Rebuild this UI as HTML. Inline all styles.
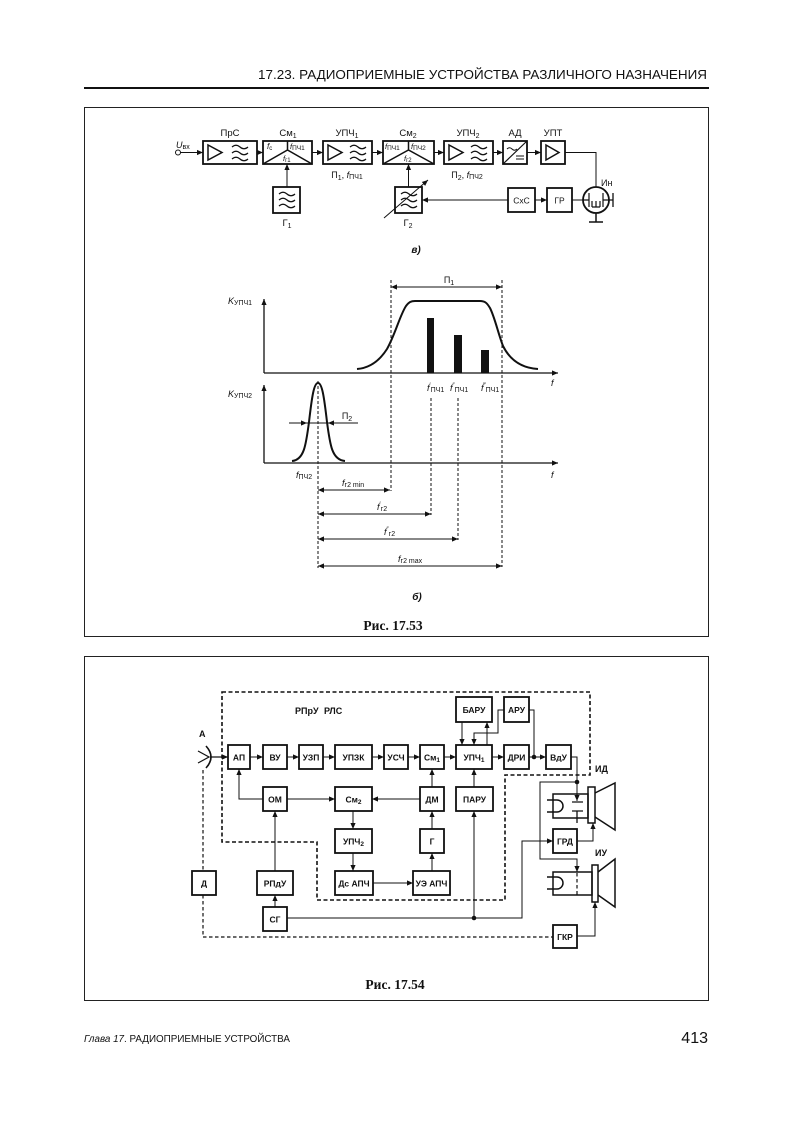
<!DOCTYPE html>
<html><head><meta charset="utf-8"><style>
html,body{margin:0;padding:0;background:#fff;}
svg{display:block;}
text{font-family:"Liberation Sans","DejaVu Sans",sans-serif;fill:#111;}
.s{font-family:"Liberation Serif","DejaVu Serif",serif;font-weight:bold;}
</style></head><body>
<svg width="794" height="1131" viewBox="0 0 794 1131" xmlns="http://www.w3.org/2000/svg">
<defs>
<marker id="a" markerWidth="6" markerHeight="6" refX="6" refY="3" orient="auto-start-reverse" markerUnits="userSpaceOnUse"><path d="M0,0.4 L6,3 L0,5.6z" fill="#111"/></marker>
</defs>

<!-- header -->
<text x="258" y="79" font-size="13" textLength="449" lengthAdjust="spacingAndGlyphs">17.23. РАДИОПРИЕМНЫЕ УСТРОЙСТВА РАЗЛИЧНОГО НАЗНАЧЕНИЯ</text>
<line x1="84" y1="88" x2="709" y2="88" stroke="#111" stroke-width="2"/>

<rect x="84.5" y="107.5" width="624" height="529" fill="none" stroke="#222" stroke-width="1"/>
<rect x="84.5" y="656.5" width="624" height="344" fill="none" stroke="#222" stroke-width="1"/>

<!-- ============ TOP DIAGRAM (a) ============ -->
<g stroke="#111" fill="none" stroke-width="1">
  <circle cx="178" cy="152.5" r="2.5"/>
  <line x1="180.5" y1="152.5" x2="203" y2="152.5" marker-end="url(#a)"/>
  <rect x="203" y="141" width="54" height="23" stroke-width="1.8"/>
  <rect x="263" y="141" width="49" height="23" stroke-width="1.8"/>
  <rect x="323" y="141" width="49" height="23" stroke-width="1.8"/>
  <rect x="383" y="141" width="51" height="23" stroke-width="1.8"/>
  <rect x="444" y="141" width="49" height="23" stroke-width="1.8"/>
  <rect x="503" y="141" width="24" height="23" stroke-width="1.8"/>
  <rect x="541" y="141" width="24" height="23" stroke-width="1.8"/>
  <path d="M208,145 L208,160 L222,152.5z" stroke-width="1.5"/>
  <path d="M328,145 L328,160 L342,152.5z" stroke-width="1.5"/>
  <path d="M449,145 L449,160 L463,152.5z" stroke-width="1.5"/>
  <path d="M546,145 L546,160 L559,152.5z" stroke-width="1.5"/>
  <g stroke-width="1.2">
    <path d="M232,147 q4,-3.5 8,0 t8,0"/><path d="M232,153 q4,-3.5 8,0 t8,0"/><path d="M232,159 q4,-3.5 8,0 t8,0"/>
    <path d="M350,147 q4,-3.5 8,0 t8,0"/><path d="M350,153 q4,-3.5 8,0 t8,0"/><path d="M350,159 q4,-3.5 8,0 t8,0"/>
    <path d="M471,147 q4,-3.5 8,0 t8,0"/><path d="M471,153 q4,-3.5 8,0 t8,0"/><path d="M471,159 q4,-3.5 8,0 t8,0"/>
    <path d="M279,194 q4,-3.5 8,0 t8,0"/><path d="M279,200 q4,-3.5 8,0 t8,0"/><path d="M279,206 q4,-3.5 8,0 t8,0"/>
    <path d="M401,194 q4,-3.5 8,0 t8,0"/><path d="M401,200 q4,-3.5 8,0 t8,0"/><path d="M401,206 q4,-3.5 8,0 t8,0"/>
  </g>
  <path d="M263,164 L287.5,150 L312,164 M287.5,150 L287.5,141" stroke-width="1.5"/>
  <path d="M383,164 L408.5,150 L434,164 M408.5,150 L408.5,141" stroke-width="1.5"/>
  <line x1="503" y1="164" x2="527" y2="141" stroke-width="1.2"/>
  <path d="M507,149 q2.5,-2.5 5,0 t5,0" stroke-width="1"/>
  <path d="M516,156 h8 M516,159 h8" stroke-width="1"/>
  <line x1="257" y1="152.5" x2="263" y2="152.5" marker-end="url(#a)"/>
  <line x1="312" y1="152.5" x2="323" y2="152.5" marker-end="url(#a)"/>
  <line x1="372" y1="152.5" x2="383" y2="152.5" marker-end="url(#a)"/>
  <line x1="434" y1="152.5" x2="444" y2="152.5" marker-end="url(#a)"/>
  <line x1="493" y1="152.5" x2="503" y2="152.5" marker-end="url(#a)"/>
  <line x1="527" y1="152.5" x2="541" y2="152.5" marker-end="url(#a)"/>
  <rect x="273" y="187" width="27" height="26" stroke-width="1.8"/>
  <line x1="287" y1="187" x2="287" y2="164" marker-end="url(#a)"/>
  <rect x="395" y="187" width="27" height="26" stroke-width="1.8"/>
  <line x1="384" y1="218" x2="428" y2="180" marker-end="url(#a)"/>
  <line x1="408.5" y1="187" x2="408.5" y2="164" marker-end="url(#a)"/>
  <rect x="508" y="188" width="27" height="24" stroke-width="1.8"/>
  <rect x="547" y="188" width="25" height="24" stroke-width="1.8"/>
  <line x1="535" y1="200" x2="547" y2="200" marker-end="url(#a)"/>
  <line x1="508" y1="200" x2="422" y2="200" marker-end="url(#a)"/>
  <line x1="572" y1="200" x2="583" y2="200"/>
  <circle cx="596" cy="200" r="13" stroke-width="1.8"/>
  <path d="M565,152.5 H596 V187"/>
  <path d="M589,193 V207 M603,193 V207 M592,207 H600 M592,201 V207 M596,201 V207 M600,201 V207" stroke-width="1.2"/>
  <path d="M583,200 H589 M603,200 H613 M613,193 V207" stroke-width="1.3"/>
  <path d="M596,213 V222 M589,222 H603" stroke-width="1.5"/>
</g>
<g font-size="9.5">
  <text x="176" y="148" font-size="9"><tspan font-style="italic">U</tspan><tspan font-size="7" dy="1">вх</tspan></text>
  <text x="230" y="136" text-anchor="middle">ПрС</text>
  <text x="288" y="136" text-anchor="middle">См<tspan font-size="7" dy="2">1</tspan></text>
  <text x="347" y="136" text-anchor="middle">УПЧ<tspan font-size="7" dy="2">1</tspan></text>
  <text x="408" y="136" text-anchor="middle">См<tspan font-size="7" dy="2">2</tspan></text>
  <text x="468" y="136" text-anchor="middle">УПЧ<tspan font-size="7" dy="2">2</tspan></text>
  <text x="515" y="136" text-anchor="middle">АД</text>
  <text x="553" y="136" text-anchor="middle">УПТ</text>
  <text x="347" y="178" text-anchor="middle" font-size="9">П<tspan font-size="7" dy="2">1</tspan><tspan dy="-2">, </tspan><tspan font-style="italic">f</tspan><tspan font-size="7" dy="1">ПЧ1</tspan></text>
  <text x="467" y="178" text-anchor="middle" font-size="9">П<tspan font-size="7" dy="2">2</tspan><tspan dy="-2">, </tspan><tspan font-style="italic">f</tspan><tspan font-size="7" dy="1">ПЧ2</tspan></text>
  <text x="287" y="226" text-anchor="middle">Г<tspan font-size="7" dy="2">1</tspan></text>
  <text x="408" y="226" text-anchor="middle">Г<tspan font-size="7" dy="2">2</tspan></text>
  <text x="521.5" y="203.5" text-anchor="middle" font-size="8.5">СхС</text>
  <text x="559.5" y="203.5" text-anchor="middle" font-size="8.5">ГР</text>
  <text x="601" y="186" font-size="9">Ин</text>
  <text x="267" y="149" font-size="8" font-style="italic">f<tspan font-size="6" font-style="normal" dy="1">c</tspan></text>
  <text x="290" y="149" font-size="7.5"><tspan font-style="italic">f</tspan><tspan font-size="6.5" dy="1">ПЧ1</tspan></text>
  <text x="283" y="161" font-size="7.5"><tspan font-style="italic">f</tspan><tspan font-size="6" dy="1">г1</tspan></text>
  <text x="385" y="149" font-size="7.5"><tspan font-style="italic">f</tspan><tspan font-size="6.5" dy="1">ПЧ1</tspan></text>
  <text x="411" y="149" font-size="7.5"><tspan font-style="italic">f</tspan><tspan font-size="6.5" dy="1">ПЧ2</tspan></text>
  <text x="404" y="161" font-size="7.5"><tspan font-style="italic">f</tspan><tspan font-size="6" dy="1">г2</tspan></text>
  <text x="416" y="253" text-anchor="middle" font-size="10" font-weight="bold" font-style="italic">в)</text>
</g>

<!-- ============ GRAPH (б) ============ -->
<g stroke="#111" fill="none" stroke-width="1.3">
  <line x1="264" y1="373" x2="264" y2="299" marker-end="url(#a)"/>
  <line x1="264" y1="373" x2="558" y2="373" marker-end="url(#a)"/>
  <line x1="264" y1="463" x2="264" y2="385" marker-end="url(#a)"/>
  <line x1="264" y1="463" x2="558" y2="463" marker-end="url(#a)"/>
  <path d="M357,369 C370,368 380,360 387,349 C395,335 400,315 406,306 C409,302 411,301 415,301 L480,301 C485,301 487,303 490,308 C495,318 498,333 503,346 C510,360 522,368 538,369" stroke-width="2"/>
  <path d="M292,461 C304,460 306,445 309,422 C312,396 314,383 318,383 C322,383 324,396 327,422 C330,445 332,460 345,461" stroke-width="2"/>
</g>
<g fill="#111">
  <rect x="427" y="318" width="7" height="55"/>
  <rect x="454" y="335" width="8" height="38"/>
  <rect x="481" y="350" width="8" height="23"/>
</g>
<g stroke="#111" fill="none" stroke-width="1" stroke-dasharray="3,2">
  <line x1="391" y1="280" x2="391" y2="491"/>
  <line x1="502" y1="280" x2="502" y2="567"/>
  <line x1="431" y1="398" x2="431" y2="515"/>
  <line x1="458" y1="398" x2="458" y2="540"/>
  <line x1="318" y1="381" x2="318" y2="568"/>
</g>
<g stroke="#111" fill="none" stroke-width="1">
  <line x1="391" y1="287" x2="502" y2="287" marker-start="url(#a)" marker-end="url(#a)"/>
  <line x1="289" y1="423" x2="307" y2="423" marker-end="url(#a)"/>
  <line x1="358" y1="423" x2="328" y2="423" marker-end="url(#a)"/>
  <line x1="307" y1="423" x2="328" y2="423"/>
  <line x1="318" y1="490" x2="390" y2="490" marker-start="url(#a)" marker-end="url(#a)"/>
  <line x1="318" y1="514" x2="431" y2="514" marker-start="url(#a)" marker-end="url(#a)"/>
  <line x1="318" y1="539" x2="458" y2="539" marker-start="url(#a)" marker-end="url(#a)"/>
  <line x1="318" y1="566" x2="502" y2="566" marker-start="url(#a)" marker-end="url(#a)"/>
</g>
<g font-size="9">
  <text x="228" y="304"><tspan font-style="italic">K</tspan><tspan font-size="7" dy="1">УПЧ1</tspan></text>
  <text x="228" y="397"><tspan font-style="italic">K</tspan><tspan font-size="7" dy="1">УПЧ2</tspan></text>
  <text x="449" y="283" text-anchor="middle">П<tspan font-size="7" dy="2">1</tspan></text>
  <text x="347" y="419" text-anchor="middle">П<tspan font-size="7" dy="2">2</tspan></text>
  <text x="551" y="386" font-style="italic">f</text>
  <text x="551" y="478" font-style="italic">f</text>
  <text x="427" y="391"><tspan font-style="italic">f</tspan><tspan font-size="6" dy="-4">′</tspan><tspan font-size="7" dy="5">ПЧ1</tspan></text>
  <text x="450" y="391"><tspan font-style="italic">f</tspan><tspan font-size="6" dy="-4">″</tspan><tspan font-size="7" dy="5">ПЧ1</tspan></text>
  <text x="481" y="391"><tspan font-style="italic">f</tspan><tspan font-size="6" dy="-4">‴</tspan><tspan font-size="7" dy="5">ПЧ1</tspan></text>
  <text x="296" y="478"><tspan font-style="italic">f</tspan><tspan font-size="7" dy="1">ПЧ2</tspan></text>
  <text x="342" y="486"><tspan font-style="italic">f</tspan><tspan font-size="7" dy="1">г2 min</tspan></text>
  <text x="377" y="510"><tspan font-style="italic">f</tspan><tspan font-size="6" dy="-4">′</tspan><tspan font-size="7" dy="5">г2</tspan></text>
  <text x="384" y="535"><tspan font-style="italic">f</tspan><tspan font-size="6" dy="-4">″</tspan><tspan font-size="7" dy="5">г2</tspan></text>
  <text x="398" y="562"><tspan font-style="italic">f</tspan><tspan font-size="7" dy="1">г2 max</tspan></text>
  <text x="417" y="600" text-anchor="middle" font-size="10" font-weight="bold" font-style="italic">б)</text>
</g>
<text x="393" y="630" text-anchor="middle" class="s" font-size="13.5">Рис. 17.53</text>

<!-- ============ FIG 17.54 ============ -->
<g stroke="#111" fill="none" stroke-width="1.6" stroke-dasharray="4,2.5">
  <path d="M222,692 H590 V775 H505 V900 H317 V842 H222 Z"/>
</g>
<g stroke="#111" fill="none" stroke-width="1.2" stroke-dasharray="3.5,2.5">
  <path d="M203,770 V871"/>
  <path d="M203,895 V937 H553"/>
  <line x1="577" y1="873" x2="577" y2="895"/>
</g>
<g stroke="#111" fill="none" stroke-width="1.8">
  <rect x="228" y="745" width="22" height="24"/>
  <rect x="263" y="745" width="24" height="24"/>
  <rect x="299" y="745" width="24" height="24"/>
  <rect x="335" y="745" width="37" height="24"/>
  <rect x="384" y="745" width="24" height="24"/>
  <rect x="420" y="745" width="24" height="24"/>
  <rect x="456" y="745" width="36" height="24"/>
  <rect x="504" y="745" width="25" height="24"/>
  <rect x="546" y="745" width="25" height="24"/>
  <rect x="456" y="697" width="36" height="25"/>
  <rect x="504" y="697" width="25" height="25"/>
  <rect x="263" y="787" width="24" height="24"/>
  <rect x="335" y="787" width="37" height="24"/>
  <rect x="420" y="787" width="24" height="24"/>
  <rect x="456" y="787" width="37" height="24"/>
  <rect x="335" y="829" width="37" height="24"/>
  <rect x="420" y="829" width="24" height="24"/>
  <rect x="335" y="871" width="38" height="24"/>
  <rect x="413" y="871" width="37" height="24"/>
  <rect x="257" y="871" width="36" height="24"/>
  <rect x="263" y="907" width="24" height="24"/>
  <rect x="192" y="871" width="24" height="24"/>
  <rect x="553" y="829" width="24" height="24"/>
  <rect x="553" y="925" width="24" height="23"/>
  <rect x="553" y="794" width="35" height="24" stroke-width="1.5"/>
  <rect x="588" y="787" width="7" height="36" stroke-width="1.5"/>
  <path d="M595,793 L615,783 L615,830 L595,817" stroke-width="1.5"/>
  <rect x="553" y="872" width="39" height="23" stroke-width="1.5"/>
  <rect x="592" y="865" width="6" height="37" stroke-width="1.5"/>
  <path d="M598,872 L615,859 L615,907 L598,895" stroke-width="1.5"/>
</g>
<g stroke="#111" fill="none" stroke-width="1.2">
  <path d="M198,751 L209,757 L198,763"/>
  <path d="M206,746 Q216,757 206,768" stroke-width="1.6"/>
  <line x1="210" y1="757" x2="228" y2="757" marker-end="url(#a)"/>
  <path d="M547,800 H557 A6,6 0 0 1 557,812 H547" stroke-width="1.5"/>
  <path d="M547,877 H557 A6,6 0 0 1 557,889 H547" stroke-width="1.5"/>
  <path d="M572,802 H583 M572,811 H583 M577,811 V823" stroke-width="1.3"/>
</g>
<g stroke="#111" fill="none" stroke-width="1">
  <line x1="250" y1="757" x2="263" y2="757" marker-end="url(#a)"/>
  <line x1="287" y1="757" x2="299" y2="757" marker-end="url(#a)"/>
  <line x1="323" y1="757" x2="335" y2="757" marker-end="url(#a)"/>
  <line x1="372" y1="757" x2="384" y2="757" marker-end="url(#a)"/>
  <line x1="408" y1="757" x2="420" y2="757" marker-end="url(#a)"/>
  <line x1="444" y1="757" x2="456" y2="757" marker-end="url(#a)"/>
  <line x1="492" y1="757" x2="504" y2="757" marker-end="url(#a)"/>
  <line x1="529" y1="757" x2="546" y2="757" marker-end="url(#a)"/>
  <path d="M529,710 H534 V757"/>
  <path d="M504,710 H498 V733 H474 V745" marker-end="url(#a)"/>
  <line x1="462" y1="722" x2="462" y2="745" marker-end="url(#a)"/>
  <line x1="487" y1="745" x2="487" y2="722" marker-end="url(#a)"/>
  <path d="M571,757 H577 V801" marker-end="url(#a)"/>
  <path d="M577,782 H540 V859 H577 V872" marker-end="url(#a)"/>
  <path d="M263,799 H239 V769" marker-end="url(#a)"/>
  <line x1="287" y1="799" x2="335" y2="799" marker-end="url(#a)"/>
  <line x1="420" y1="799" x2="372" y2="799" marker-end="url(#a)"/>
  <line x1="432" y1="787" x2="432" y2="769" marker-end="url(#a)"/>
  <line x1="474" y1="787" x2="474" y2="769" marker-end="url(#a)"/>
  <line x1="474" y1="918" x2="474" y2="811" marker-end="url(#a)"/>
  <line x1="353" y1="811" x2="353" y2="829" marker-end="url(#a)"/>
  <line x1="353" y1="853" x2="353" y2="871" marker-end="url(#a)"/>
  <line x1="373" y1="883" x2="413" y2="883" marker-end="url(#a)"/>
  <line x1="432" y1="871" x2="432" y2="853" marker-end="url(#a)"/>
  <line x1="432" y1="829" x2="432" y2="811" marker-end="url(#a)"/>
  <line x1="275" y1="907" x2="275" y2="895" marker-end="url(#a)"/>
  <line x1="275" y1="871" x2="275" y2="811" marker-end="url(#a)"/>
  <path d="M287,918 H522 V841 H553" marker-end="url(#a)"/>
  <path d="M577,841 H593 V823" marker-end="url(#a)"/>
  <path d="M577,936 H595 V902" marker-end="url(#a)"/>
</g>
<g fill="#111">
  <circle cx="534" cy="757" r="2.3"/>
  <circle cx="577" cy="782" r="2.3"/>
  <circle cx="474" cy="918" r="2.3"/>
</g>
<g font-size="8.5" font-weight="bold" text-anchor="middle">
  <text x="239" y="760.5">АП</text>
  <text x="275" y="760.5">ВУ</text>
  <text x="311" y="760.5">УЗП</text>
  <text x="353.5" y="760.5">УПЗК</text>
  <text x="396" y="760.5">УСЧ</text>
  <text x="432" y="760.5">См<tspan font-size="6.5" dy="1.5">1</tspan></text>
  <text x="474" y="760.5">УПЧ<tspan font-size="6.5" dy="1.5">1</tspan></text>
  <text x="516.5" y="760.5">ДРИ</text>
  <text x="558.5" y="760.5">ВдУ</text>
  <text x="474" y="713">БАРУ</text>
  <text x="516.5" y="713">АРУ</text>
  <text x="275" y="802.5">ОМ</text>
  <text x="353.5" y="802.5">См<tspan font-size="6.5" dy="1.5">2</tspan></text>
  <text x="432" y="802.5">ДМ</text>
  <text x="474.5" y="802.5">ПАРУ</text>
  <text x="353.5" y="844.5">УПЧ<tspan font-size="6.5" dy="1.5">2</tspan></text>
  <text x="432" y="844.5">Г</text>
  <text x="354" y="886.5">Дс АПЧ</text>
  <text x="431.5" y="886.5">УЭ АПЧ</text>
  <text x="275" y="886.5">РПдУ</text>
  <text x="275" y="922.5">СГ</text>
  <text x="204" y="886.5">Д</text>
  <text x="565" y="844.5">ГРД</text>
  <text x="565" y="940">ГКР</text>
</g>
<g font-size="9" font-weight="bold">
  <text x="295" y="714">РПрУ</text>
  <text x="324" y="714">РЛС</text>
  <text x="199" y="737">А</text>
  <text x="595" y="772">ИД</text>
  <text x="595" y="856">ИУ</text>
</g>
<text x="395" y="989" text-anchor="middle" class="s" font-size="13.5">Рис. 17.54</text>

<!-- footer -->
<text x="84" y="1042" font-size="10" textLength="206" lengthAdjust="spacingAndGlyphs"><tspan font-style="italic">Глава 17</tspan>. РАДИОПРИЕМНЫЕ УСТРОЙСТВА</text>
<text x="708" y="1043" text-anchor="end" font-size="16">413</text>
</svg>
</body></html>
